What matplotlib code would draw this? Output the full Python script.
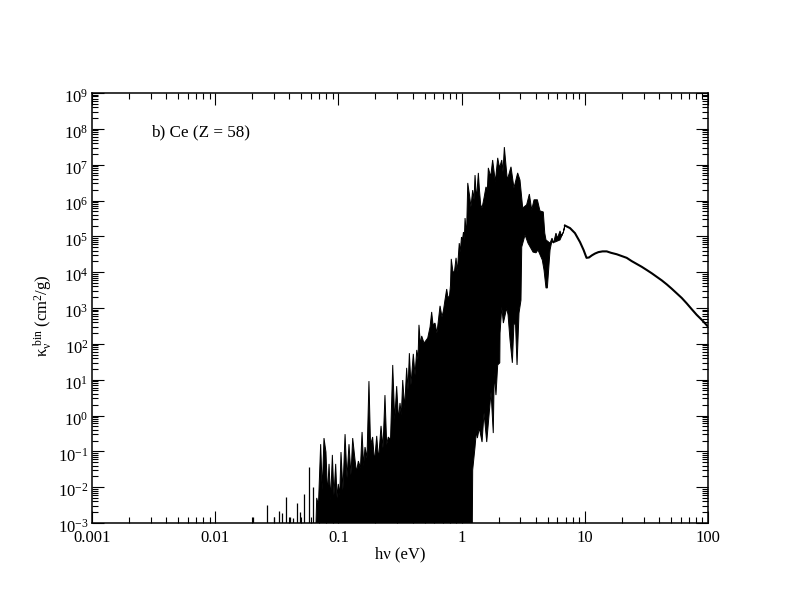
import numpy as np
import matplotlib
matplotlib.use("Agg")
import matplotlib.pyplot as plt
from matplotlib.ticker import LogLocator, NullFormatter, FixedLocator, FixedFormatter
from matplotlib.transforms import ScaledTranslation

plt.rcParams['font.family'] = ['Liberation Serif', 'DejaVu Serif']
plt.rcParams['mathtext.fontset'] = 'stix'

# All values, in decades (log10 of hv in eV, log10 of kappa in cm2/g)
# isolated low-energy lines
spike_log_hv = [-1.696, -1.582, -1.523, -1.480, -1.460, -1.425, -1.393, -1.366, -1.334, -1.312, -1.279, -1.236, -1.204]
spike_log_k = [-2.83, -2.50, -2.83, -2.67, -2.72, -2.27, -2.83, -2.86, -2.44, -2.69, -2.19, -1.44, -2.00]

# upper edge of the dense line forest
top_log_hv = [-1.182, -1.176, -1.162, -1.144, -1.131, -1.117, -1.101, -1.088, -1.076, -1.063, -1.049, -1.036, -1.022,
              -1.011, -1.001, -0.989, -0.979, -0.963, -0.946, -0.930, -0.914, -0.898, -0.884, -0.865, -0.853, -0.838,
              -0.821, -0.808, -0.795, -0.784, -0.768, -0.752, -0.739, -0.722, -0.707, -0.689, -0.674, -0.654, -0.638,
              -0.622, -0.608, -0.595, -0.577, -0.559, -0.543, -0.527, -0.512, -0.500, -0.489, -0.478, -0.462, -0.446,
              -0.435, -0.424, -0.411, -0.392, -0.378, -0.364, -0.354, -0.346, -0.334, -0.324, -0.305, -0.275, -0.256,
              -0.243, -0.232, -0.216, -0.200, -0.175, -0.159, -0.147, -0.135, -0.121, -0.110, -0.098, -0.090, -0.084,
              -0.070, -0.058, -0.045, -0.035, -0.019, -0.011, -0.001, 0.007, 0.015, 0.022, 0.028, 0.040, 0.050, 0.064,
              0.076, 0.090, 0.101, 0.109, 0.121, 0.136, 0.145, 0.155, 0.166, 0.182, 0.198, 0.209, 0.217, 0.236, 0.252,
              0.274, 0.293, 0.308, 0.326, 0.336, 0.347, 0.371, 0.401, 0.425, 0.455, 0.474, 0.496, 0.528, 0.550, 0.569,
              0.588, 0.615, 0.636, 0.663, 0.675, 0.685, 0.718, 0.734, 0.746, 0.766, 0.778, 0.799, 0.811, 0.827, 0.839]
top_log_k = [-3.00, -2.30, -2.50, -0.80, -2.08, -0.63, -1.02, -2.22, -1.35, -2.36, -1.10, -2.22, -1.35,
             -2.30, -1.91, -2.22, -1.02, -2.08, -0.52, -1.74, -0.80, -1.66, -0.63, -1.24, -1.58, -1.27,
             -1.46, -0.46, -1.41, -0.88, -1.19, 0.96, -0.82, -0.60, -1.30, -0.57, -1.24, -0.29, -0.91,
             0.57, -0.82, -0.60, -0.68, 1.41, -0.13, 0.82, -0.13, 0.35, 0.01, 0.99, 0.21, 1.33,
             0.71, 1.74, 0.85, 1.72, 1.13, 1.83, 1.55, 2.53, 1.97, 2.22, 2.02, 2.16, 2.47,
             2.89, 2.53, 2.58, 2.30, 3.06, 2.75, 2.94, 3.22, 3.53, 3.28, 3.34, 3.64, 4.37,
             4.01, 4.01, 4.40, 4.01, 4.81, 4.56, 4.98, 4.90, 5.12, 4.90, 5.51, 5.04, 6.49, 6.15,
             5.82, 6.29, 6.02, 6.71, 6.02, 6.77, 6.29, 5.88, 5.79, 6.07, 6.38, 6.29, 6.91, 6.66, 7.13,
             6.52, 7.19, 6.91, 7.13, 6.80, 7.49, 6.57, 6.94, 6.35, 6.77, 6.57, 5.79, 5.88, 6.18, 5.74,
             6.02, 6.02, 5.71, 5.68, 5.09, 4.90, 4.81, 4.95, 4.81, 5.09, 4.95, 5.15, 5.01, 5.12, 5.32]

# lower edge of the forest, from high energy back to low energy
low_log_hv = [0.826, 0.799, 0.758, 0.731, 0.718, 0.696, 0.685, 0.669, 0.655, 0.620, 0.604, 0.580, 0.539, 0.515, 0.488,
              0.482, 0.466, 0.450, 0.438, 0.425, 0.412, 0.393, 0.377, 0.366, 0.339, 0.326, 0.312, 0.310, 0.293, 0.279,
              0.265, 0.257, 0.239, 0.204, 0.182, 0.166, 0.144, 0.128, 0.121, 0.109, 0.090, 0.087, -1.182]
low_log_k = [5.12, 4.90, 4.84, 4.84, 4.62, 3.56, 3.56, 4.06, 4.34, 4.62, 4.54, 4.56, 4.81, 5.04, 4.70,
             3.22, 2.86, 1.41, 2.53, 2.58, 1.47, 2.11, 2.81, 3.00, 2.58, 3.03, 2.30, 1.47, 1.41, 0.57,
             1.19, -0.49, 0.66, -0.74, 0.07, -0.74, -0.35, -0.63, -0.40, -0.88, -1.52, -3.00, -3.00]

# smooth continuum at high energy
curve_log_hv = [0.839, 0.880, 0.920, 0.961, 0.990, 1.014, 1.034, 1.058, 1.083, 1.111, 1.144, 1.178, 1.213, 1.259,
                1.340, 1.380, 1.421, 1.462, 1.503, 1.543, 1.584, 1.625, 1.665, 1.705, 1.746, 1.787, 1.827, 1.867,
                1.908, 1.955, 2.000]
curve_log_k = [5.30, 5.23, 5.09, 4.84, 4.62, 4.40, 4.41, 4.47, 4.52, 4.56, 4.58, 4.58, 4.54, 4.50,
               4.40, 4.31, 4.23, 4.15, 4.06, 3.97, 3.87, 3.77, 3.66, 3.54, 3.41, 3.28, 3.13, 2.97,
               2.81, 2.65, 2.48]

x_ticks = [0.001, 0.01, 0.1, 1, 10, 100]
x_labels = ['0.001', '0.01', '0.1', '1', '10', '100']
y_exps = list(range(-3, 10))

fig = plt.figure(figsize=(7.97, 6.16), dpi=100)
ax = fig.add_axes([92 / 797, 1 - 523 / 616, 616 / 797, 430 / 616])
ax.set_xscale('log')
ax.set_yscale('log')

ax.vlines(10.0 ** np.array(spike_log_hv), 1e-3, 10.0 ** np.array(spike_log_k), color='k', lw=0.9)
poly_x = 10.0 ** np.array(top_log_hv + low_log_hv)
poly_y = 10.0 ** np.array(top_log_k + low_log_k)
ax.fill(poly_x, poly_y, facecolor='k', edgecolor='k', lw=0.7)
ax.plot(10.0 ** np.array(curve_log_hv), 10.0 ** np.array(curve_log_k), color='k', lw=1.5)

ax.set_xlim(1e-3, 100)
ax.set_ylim(1e-3, 1e9)

ax.xaxis.set_major_locator(FixedLocator(x_ticks))
ax.xaxis.set_major_formatter(FixedFormatter(x_labels))
ax.yaxis.set_major_locator(FixedLocator([10.0 ** e for e in y_exps]))
ax.yaxis.set_major_formatter(FixedFormatter([r'$\mathdefault{10^{%d}}$' % e for e in y_exps]))
for a in (ax.xaxis, ax.yaxis):
    a.set_minor_locator(LogLocator(base=10, subs=range(2, 10), numticks=100))
    a.set_minor_formatter(NullFormatter())

ax.tick_params(which='major', direction='in', length=8.5, width=0.8, top=True, right=True, labelsize=12, colors='k')
ax.tick_params(which='minor', direction='in', length=4.3, width=0.8, top=True, right=True)
ax.tick_params(axis='x', which='major', pad=5)
ax.tick_params(axis='y', which='major', pad=4)
for s in ax.spines.values():
    s.set_linewidth(1.1)

# y tick labels sit slightly lower and closer to the axis in the reference
shift = ScaledTranslation(2 / 100, -3 / 100, fig.dpi_scale_trans)
for lab in ax.get_yticklabels():
    lab.set_transform(lab.get_transform() + shift)

ax.set_xlabel('hν (eV)', fontsize=12, labelpad=0.5)
fig.text(43 / 797, 1 - 316 / 616, r'$\mathdefault{\kappa_{\nu}^{\ bin}\ (cm^{2}/g)}$', rotation=90, fontsize=12,
         ha='center', va='center')
ax.text(151 / 797, 1 - 132.5 / 616, 'b) Ce (Z = 58)', transform=fig.transFigure, fontsize=12.3, ha='left', va='center')

fig.savefig('out.png', dpi=100)
